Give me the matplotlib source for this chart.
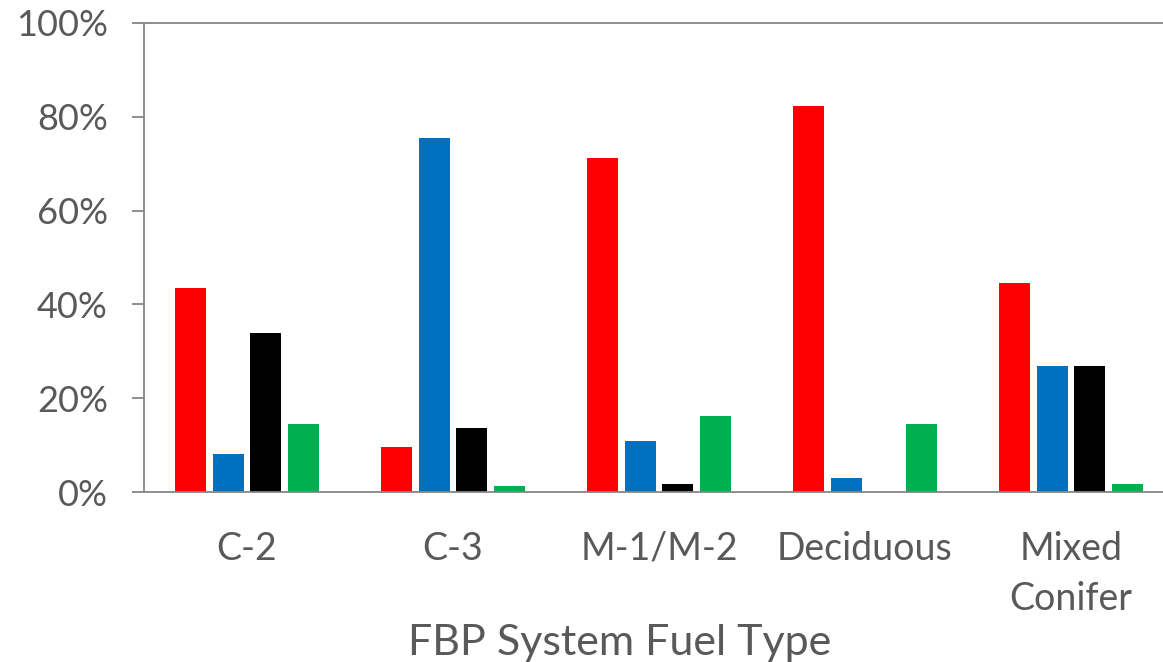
import matplotlib
matplotlib.use('Agg')
import numpy as np
from matplotlib import pyplot as plt
from matplotlib.ticker import PercentFormatter

categories = ['C-2', 'C-3', 'M-1/M-2', 'Deciduous', 'Mixed\nConifer']
red_vals = [43.6, 9.7, 71.3, 82.3, 44.5]
blue_vals = [8.2, 75.4, 10.9, 2.9, 26.9]
black_vals = [33.8, 13.6, 1.6, 0.0, 26.9]
green_vals = [14.5, 1.3, 16.1, 14.6, 1.8]
yticks = [0, 20, 40, 60, 80, 100]

series = [red_vals, blue_vals, black_vals, green_vals]
colors = ['#ff0000', '#0070c0', '#000000', '#00b050']

plt.rcParams['font.family'] = ['Lato', 'DejaVu Sans']
textgray = '#595959'
linegray = '#868686'

fig = plt.figure(figsize=(11.63, 6.62), dpi=100)
# axes runs a bit past the right edge, as in the (cropped) reference
ax = fig.add_axes([144/1163, 170/662, 1030/1163, 469/662])

x = np.arange(len(categories))
step = 0.182  # spacing between bars within a group
width = 0.15
for i, (vals, c) in enumerate(zip(series, colors)):
    ax.bar(x + (i - 1.5)*step, vals, width, color=c, zorder=2)

ax.set_xlim(-0.5, len(categories) - 0.5)
ax.set_ylim(0, 100)
ax.set_yticks(yticks)
ax.yaxis.set_major_formatter(PercentFormatter(decimals=0))
ax.set_xticks(x)
ax.set_xticklabels(categories, linespacing=1.5)

ax.spines['right'].set_visible(False)
for s in ['left', 'bottom', 'top']:
    ax.spines[s].set_color(linegray)
    ax.spines[s].set_linewidth(1.3)

ax.tick_params(axis='y', length=9, width=1.3, color=linegray, pad=17,
               labelsize=26, labelcolor=textgray)
ax.tick_params(axis='x', length=0, pad=28, labelsize=27, labelcolor=textgray)

fig.text(620/1163, 1 - 643/662, 'FBP System Fuel Type', ha='center', va='center',
         fontsize=31, color=textgray)

fig.savefig('out.png', dpi=100)
